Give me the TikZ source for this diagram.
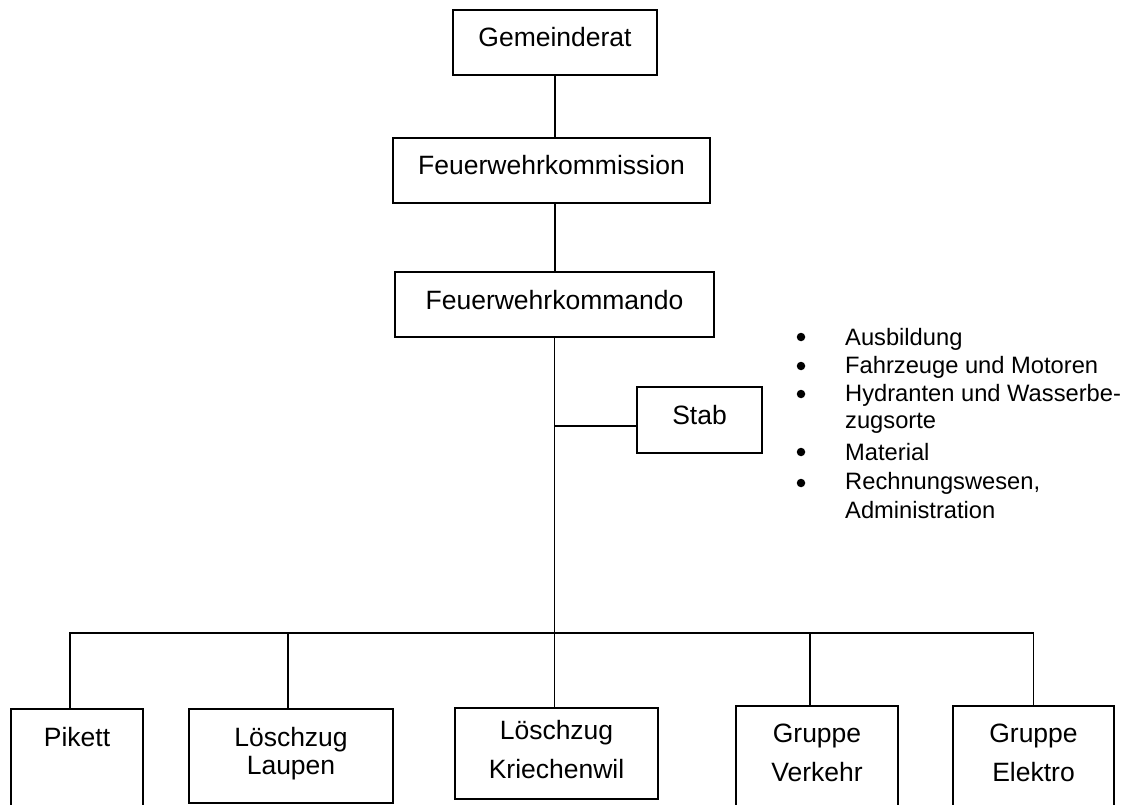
\documentclass[tikz,border=0pt]{standalone}
\usepackage{fontspec}
\setmainfont{Liberation Sans}
\usetikzlibrary{calc}

\tikzset{
	box/.style={draw, line width=1.8pt, inner xsep=0pt, inner ysep=0pt, align=center, font=\fontsize{26.5}{31.8}\selectfont},
	topbox/.style={box, text height=19pt, text depth=10pt},
	unit/.style={box, anchor=north, text height=38pt, text depth=#1},
	dot/.style={circle, fill=black, inner sep=0pt, minimum size=8.5pt},
	item/.style={anchor=west, inner sep=0pt, font=\fontsize{23.7}{28}\selectfont},
	link/.style={line width=1.8pt}
}

\begin{document}
\begin{tikzpicture}[x=1pt, y=-1pt]
			%%%%% START %%%%%
			\useasboundingbox (0, 0) rectangle (1126, 805);
			
			\node[topbox, minimum width=204pt, minimum height=65pt] (gemeinderat) at (555, 42.5) {Gemeinderat};
			\node[topbox, minimum width=317pt, minimum height=65pt] (kommission) at (551.5, 170.5) {Feuerwehrkommission};
			\node[topbox, minimum width=319pt, minimum height=65pt] (kommando) at (554.5, 304.5) {Feuerwehrkommando};
			\node[topbox, minimum width=125pt, minimum height=66pt] (stab) at (699.5, 420) {Stab};
			
			\node[unit=69pt, minimum width=132pt] (pikett) at (77, 708) {Pikett};
			\node[unit=28pt, text height=66pt, minimum width=204pt] (laupen) at (291, 708) {Löschzug\\[-3.8pt]Laupen};
			\node[unit=20pt, text height=71pt, minimum width=203pt] (kriechenwil) at (556.5, 707) {Löschzug\\[7.2pt]Kriechenwil};
			\node[unit=33pt, text height=76pt, minimum width=162pt] (verkehr) at (817, 705) {Gruppe\\[7.2pt]Verkehr};
			\node[unit=33pt, text height=76pt, minimum width=161pt] (elektro) at (1033.5, 705) {Gruppe\\[7.2pt]Elektro};
			
			\coordinate (bar) at (554, 633);
			
			\draw[link] (gemeinderat.south) -- (gemeinderat.south |- kommission.north);
			\draw[link] (gemeinderat.south |- kommission.south) -- (gemeinderat.south |- kommando.north);
			\draw[link] (kommando.south) -- (kommando.south |- bar);
			\draw[link] ([yshift=-6pt]stab.west -| kommando.south) -- ([yshift=-6pt]stab.west);
			
			\draw[link] ([xshift=-7pt]pikett.north) |- (bar -| elektro.north) -- (elektro.north);
			\draw[link] ([xshift=-3pt]laupen.north) -- ([xshift=-3pt]laupen.north |- bar);
			\draw[link] ([xshift=-2pt]kriechenwil.north) -- ([xshift=-2pt]kriechenwil.north |- bar);
			\draw[link] ([xshift=-7pt]verkehr.north) -- ([xshift=-7pt]verkehr.north |- bar);
			
			\foreach \y [count=\i] in {337, 366, 394, 452, 483}
				\node[dot] (dot\i) at (801, \y) {};
			\foreach \y/\t [count=\i] in {339/Ausbildung, 367/Fahrzeuge und Motoren, 395/Hydranten und Wasserbe-, 423/zugsorte, 452/Material, 483/{Rechnungswesen,}, 510/Administration}
				\node[item] (item\i) at (845, \y) {\t};
			
			%%%%% END %%%%%
\end{tikzpicture}
\end{document}
